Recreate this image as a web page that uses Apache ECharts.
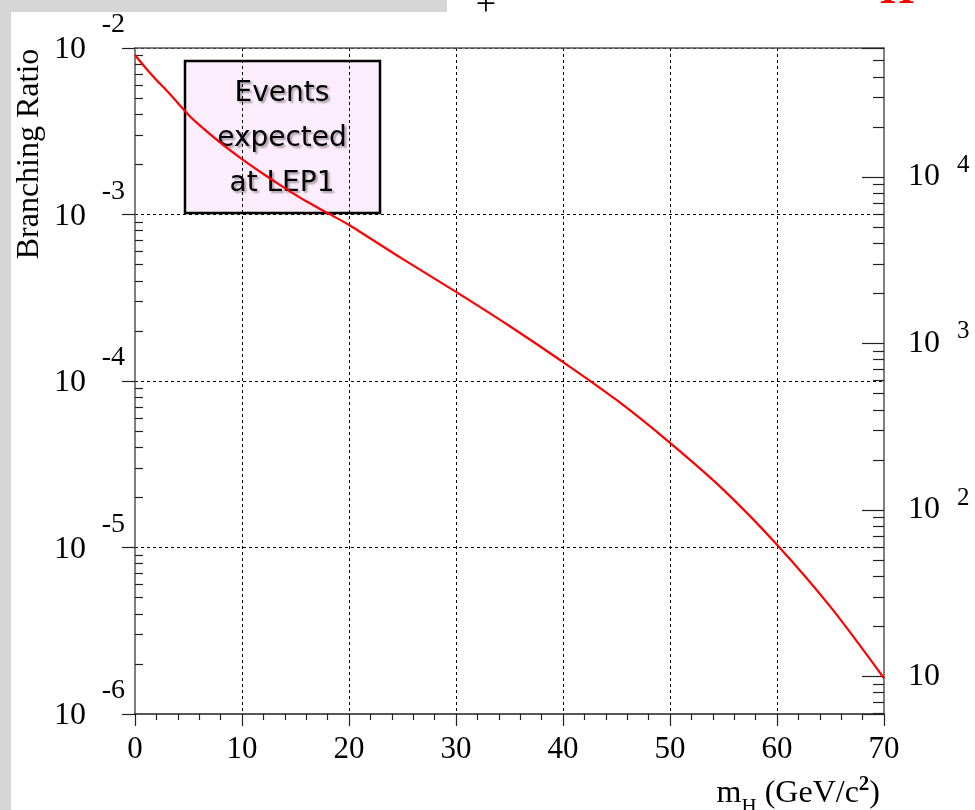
<!DOCTYPE html>
<html>
<head>
<meta charset="utf-8">
<script src="https://cdn.jsdelivr.net/npm/echarts@6/dist/echarts.min.js"></script>
<style>
  html, body { margin: 0; padding: 0; background: #ffffff; }
  #chart { width: 975px; height: 810px; }
</style>
</head>
<body>
<div id="chart"></div>
<script>
// Higgs mass m_H in GeV/c^2
const massGeV = [0, 1, 2, 3, 4, 5, 6, 8, 10, 12, 14, 16, 18, 20, 25, 30, 35, 40, 45, 50, 55, 60, 65, 70];
// Branching ratio at each mass
const branchingRatio = [
  9.08e-3, 7.59e-3, 6.43e-3, 5.52e-3, 4.68e-3, 3.96e-3, 3.45e-3, 2.69e-3,
  2.15e-3, 1.75e-3, 1.44e-3, 1.20e-3, 1.02e-3, 8.65e-4, 5.41e-4, 3.43e-4,
  2.14e-4, 1.30e-4, 7.69e-5, 4.25e-5, 2.22e-5, 1.04e-5, 4.40e-6, 1.64e-6
];
// Axis ranges
const massRange = [0, 70];
const brRange = [1e-6, 1e-2];
// Number of events expected at LEP1 per unit of branching ratio (right-hand scale)
const eventsPerUnitBR = 5.96e6;
const eventsRange = [brRange[0] * eventsPerUnitBR, brRange[1] * eventsPerUnitBR];
// Sub-decade tick multipliers for the log scales
const minorMultipliers = [2, 3, 4, 5, 6, 7, 8, 9];
// Text of the annotation box
const boxLines = ['Events', 'expected', 'at LEP1'];

// log10 positions of the 2..9 sub-decade ticks strictly inside [lo, hi]
function decadeTicks(lo, hi) {
  const out = [];
  for (let k = Math.floor(Math.log10(lo)); k <= Math.ceil(Math.log10(hi)); k++) {
    minorMultipliers.forEach(m => {
      const v = Math.log10(m) + k;
      if (v > Math.log10(lo) + 1e-6 && v < Math.log10(hi) - 1e-6) out.push(v);
    });
  }
  return out;
}
// integer decade exponent of a tick value, or null between decades
function decade(v) {
  const e = Math.log10(v);
  return Math.abs(e - Math.round(e)) > 0.01 ? null : Math.round(e);
}

const serif = 'Liberation Serif';
const axisGrey = '#555';
const tickStyle = { color: '#222', width: 1.2 };
const gridDash = { color: '#000', width: 1, type: [3, 3] };
const frame = { left: 135, right: 91, top: 48, bottom: 96, containLabel: false, outerBoundsMode: 'none' };
const hidden = {
  axisLine: { show: false, onZero: false }, axisTick: { show: false },
  splitLine: { show: false }, minorTick: { show: false }
};

const chart = echarts.init(document.getElementById('chart'), null, { renderer: 'canvas' });

chart.setOption({
  backgroundColor: '#ffffff',
  animation: false,
  grid: [Object.assign({}, frame), Object.assign({}, frame), Object.assign({}, frame)],
  xAxis: [
    {
      gridIndex: 0, type: 'value', position: 'bottom', min: massRange[0], max: massRange[1], interval: 10,
      axisLine: { show: true, onZero: false, lineStyle: { color: '#222', width: 1.5 } },
      axisTick: { show: true, inside: false, length: 12, lineStyle: tickStyle },
      minorTick: { show: true, splitNumber: 5, length: 6, lineStyle: tickStyle },
      splitLine: { show: true, showMinLine: false, showMaxLine: false, lineStyle: gridDash },
      axisLabel: { margin: 20, color: '#000', fontFamily: serif, fontSize: 31 },
      name: '{m|m}{h|H}{t| (GeV/c}{s|2}{t|)}',
      nameLocation: 'end', nameGap: -4,
      nameTextStyle: {
        align: 'right', verticalAlign: 'top', padding: [60, 0, 0, 0],
        rich: {
          m: { fontFamily: serif, fontSize: 32, color: '#000', verticalAlign: 'bottom', lineHeight: 36 },
          h: { fontFamily: serif, fontSize: 21, color: '#000', verticalAlign: 'bottom', lineHeight: 36, padding: [0, 0, -8, 0] },
          t: { fontFamily: serif, fontSize: 32, color: '#000', verticalAlign: 'bottom', lineHeight: 36 },
          s: { fontFamily: serif, fontSize: 21, color: '#000', fontWeight: 'bold', verticalAlign: 'bottom', lineHeight: 36, padding: [0, 0, 15, 0] }
        }
      }
    },
    {
      gridIndex: 0, type: 'value', position: 'top', min: massRange[0], max: massRange[1],
      axisLine: { show: true, onZero: false, lineStyle: { color: axisGrey, width: 1.5 } },
      axisTick: { show: false }, axisLabel: { show: false }, splitLine: { show: false }
    },
    { gridIndex: 1, type: 'value', min: massRange[0], max: massRange[1], show: false },
    { gridIndex: 2, type: 'value', min: massRange[0], max: massRange[1], show: false }
  ],
  yAxis: [
    {
      // branching ratio: frame line, decade ticks, grid lines and the "10" of each label
      gridIndex: 0, type: 'log', logBase: 10, position: 'left', min: brRange[0], max: brRange[1],
      axisLine: { show: true, onZero: false, lineStyle: { color: axisGrey, width: 1.5 } },
      axisTick: { show: true, inside: false, length: 13, lineStyle: tickStyle },
      splitLine: { show: true, showMinLine: false, showMaxLine: false, lineStyle: gridDash },
      axisLabel: {
        margin: 49,
        formatter: v => decade(v) === null ? '' : '{b|10}',
        rich: { b: { fontFamily: serif, fontSize: 32, color: '#000', lineHeight: 32, padding: [4, 0, 0, 0] } }
      }
    },
    Object.assign({}, hidden, {
      // exponents of the branching-ratio labels
      gridIndex: 0, type: 'log', logBase: 10, position: 'left', min: brRange[0], max: brRange[1],
      axisLabel: {
        margin: 10,
        formatter: v => decade(v) === null ? '' : '{s|' + decade(v) + '}',
        rich: { s: { fontFamily: serif, fontSize: 28, color: '#000', lineHeight: 28, padding: [0, 0, 46, 0] } }
      }
    }),
    {
      // expected number of events at LEP1
      gridIndex: 0, type: 'log', logBase: 10, position: 'right', min: eventsRange[0], max: eventsRange[1],
      axisLine: { show: true, onZero: false, lineStyle: { color: axisGrey, width: 1.5 } },
      axisTick: { show: true, inside: true, length: 22, lineStyle: tickStyle },
      splitLine: { show: false },
      axisLabel: {
        margin: 24,
        formatter: v => decade(v) === null ? '' : '{b|10}',
        rich: { b: { fontFamily: serif, fontSize: 32, color: '#000', lineHeight: 32 } }
      }
    },
    Object.assign({}, hidden, {
      // exponents of the event-count labels (10^1 is written as plain 10)
      gridIndex: 0, type: 'log', logBase: 10, position: 'right', min: eventsRange[0], max: eventsRange[1],
      axisLabel: {
        margin: 73,
        formatter: v => { const k = decade(v); return k === null || k === 1 ? '' : '{s|' + k + '}'; },
        rich: { s: { fontFamily: serif, fontSize: 25, color: '#000', lineHeight: 25, padding: [0, 0, 24, 0] } }
      }
    }),
    {
      // sub-decade ticks of the branching-ratio scale, drawn inside the frame
      gridIndex: 1, type: 'value', position: 'left', min: Math.log10(brRange[0]), max: Math.log10(brRange[1]),
      axisLine: { show: false, onZero: false },
      axisTick: { show: true, inside: true, length: 8, customValues: decadeTicks(brRange[0], brRange[1]), lineStyle: tickStyle },
      axisLabel: { show: false }, splitLine: { show: false }
    },
    {
      // sub-decade ticks of the event-count scale
      gridIndex: 2, type: 'value', position: 'right', min: Math.log10(eventsRange[0]), max: Math.log10(eventsRange[1]),
      axisLine: { show: false, onZero: false },
      axisTick: { show: true, inside: true, length: 11, customValues: decadeTicks(eventsRange[0], eventsRange[1]), lineStyle: tickStyle },
      axisLabel: { show: false }, splitLine: { show: false }
    }
  ],
  series: [
    {
      type: 'line', xAxisIndex: 0, yAxisIndex: 0,
      data: massGeV.map((m, i) => [m, branchingRatio[i]]),
      smooth: 0.3, showSymbol: false, symbol: 'none',
      lineStyle: { color: '#ff0000', width: 2.2 },
      z: 3
    }
  ],
  graphic: [
    // marbled page margin
    { type: 'rect', z: -10, shape: { x: 0, y: 0, width: 11, height: 810 }, style: { fill: '#d6d6d6' } },
    { type: 'rect', z: -10, shape: { x: 0, y: 0, width: 447, height: 12 }, style: { fill: '#d6d6d6' } },
    // heading fragments at the top edge
    { type: 'text', z: 5, style: { text: '+', x: 486, y: 6, align: 'center', verticalAlign: 'middle', fontFamily: serif, fontSize: 36, fill: '#000' } },
    { type: 'text', z: 5, style: { text: 'H', x: 897, y: 14, align: 'center', verticalAlign: 'bottom', fontFamily: serif, fontWeight: 'bold', fontSize: 44, fill: '#ff0000' } },
    // left axis title
    {
      type: 'text', z: 5, x: 30, y: 154, rotation: Math.PI / 2,
      style: { text: 'Branching Ratio', align: 'center', verticalAlign: 'middle', fontFamily: serif, fontSize: 32, fill: '#000' }
    },
    // annotation box
    {
      type: 'group', z: 50,
      children: [
        { type: 'rect', shape: { x: 185, y: 61, width: 195, height: 152 }, style: { fill: '#fcedfc', stroke: '#000', lineWidth: 2.5 } },
        ...boxLines.map((t, i) => ({
          type: 'text',
          style: {
            text: t, x: 282, y: 94 + i * 45, align: 'center', verticalAlign: 'middle',
            fontFamily: 'DejaVu Sans', fontSize: 28, fill: '#000',
            textShadowColor: 'rgba(0,0,0,0.35)', textShadowBlur: 2, textShadowOffsetX: 2, textShadowOffsetY: 2
          }
        }))
      ]
    }
  ]
});
</script>
</body>
</html>
